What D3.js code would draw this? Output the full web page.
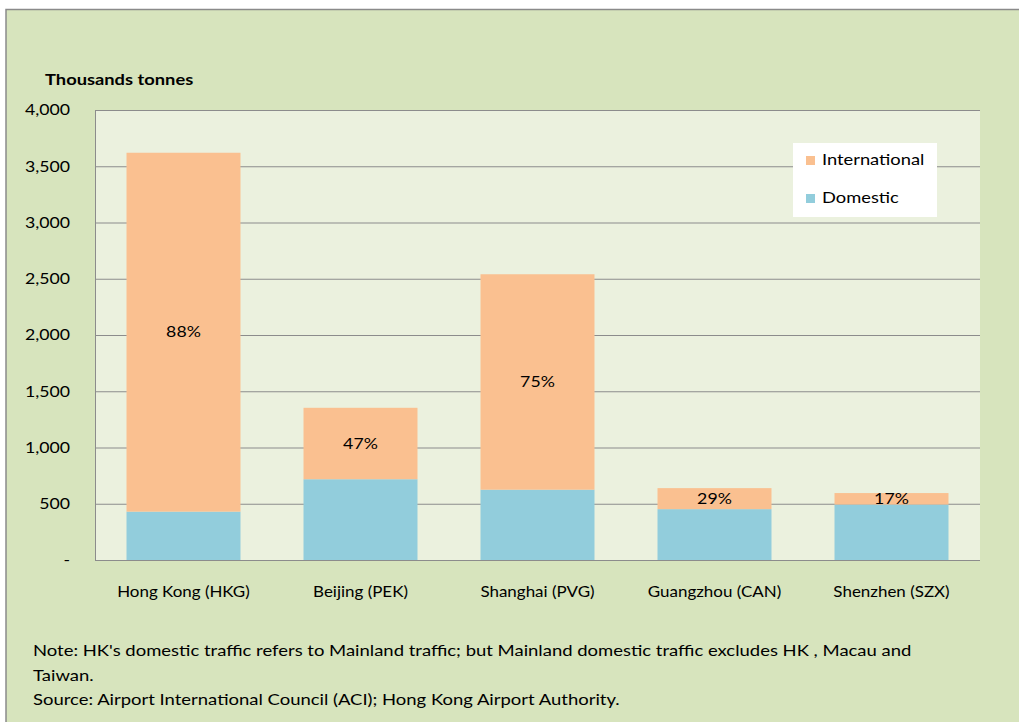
<!DOCTYPE html>
<html>
<head>
<meta charset="utf-8">
<script src="https://cdn.jsdelivr.net/npm/d3@7"></script>
<style>
    body { margin: 0; background: #fff; }
    text { font-family: Lato, "Open Sans", sans-serif; fill: #000; }
</style>
</head>
<body>
<svg id="chart" width="1019" height="722"></svg>
<script>
// airports and cargo tonnage (thousand tonnes)
var airports = ["Hong Kong (HKG)", "Beijing (PEK)", "Shanghai (PVG)", "Guangzhou (CAN)", "Shenzhen (SZX)"];
var domestic = [430, 718, 625, 452, 493];
var international = [3190, 635, 1915, 187, 102];
var shareLabels = ["88%", "47%", "75%", "29%", "17%"];
var yTicks = [0, 500, 1000, 1500, 2000, 2500, 3000, 3500, 4000];
var noteLines = [
    "Note: HK's domestic traffic refers to Mainland traffic; but Mainland domestic traffic excludes HK , Macau  and",
    "Taiwan.",
    "Source: Airport International Council (ACI); Hong Kong Airport Authority."
];

var svg = d3.select("#chart");

// the original font is wider than Lato, stretch text a bit
function widen(sel, factor) {
    sel.each(function () {
        var w = this.getComputedTextLength();
        d3.select(this)
            .attr("textLength", w * factor)
            .attr("lengthAdjust", "spacingAndGlyphs");
    });
}

// chart area background with thin grey frame
svg.append("rect")
    .attr("x", 6).attr("y", 9.5)
    .attr("width", 1019).attr("height", 722)
    .style("fill", "#d7e4bd")
    .style("stroke", "#8a8a8a")
    .style("stroke-width", 1.5);

var margin = {left: 95, top: 110, right: 980, bottom: 560};

var x = d3.scaleBand()
    .domain(airports)
    .range([margin.left, margin.right])
    .paddingInner(0.356)
    .paddingOuter(0.178);

var y = d3.scaleLinear()
    .domain([0, 4000])
    .range([margin.bottom, margin.top]);

// plot area
svg.append("rect")
    .attr("x", margin.left).attr("y", margin.top)
    .attr("width", margin.right - margin.left)
    .attr("height", margin.bottom - margin.top)
    .style("fill", "#ebf1de");

// gridlines
svg.append("g")
    .selectAll("line")
    .data(yTicks.slice(1))
    .enter().append("line")
    .attr("x1", margin.left).attr("x2", margin.right)
    .attr("y1", function (d) { return y(d) + 0.5; })
    .attr("y2", function (d) { return y(d) + 0.5; })
    .style("stroke", "#8c8c8c")
    .style("stroke-width", 1.2);

// axis lines
svg.append("line")
    .attr("x1", margin.left + 0.5).attr("x2", margin.left + 0.5)
    .attr("y1", margin.top).attr("y2", margin.bottom)
    .style("stroke", "#8c8c8c");
svg.append("line")
    .attr("x1", margin.left).attr("x2", margin.right)
    .attr("y1", margin.bottom + 0.5).attr("y2", margin.bottom + 0.5)
    .style("stroke", "#8c8c8c");

// y tick labels
var fmt = d3.format(",");
var tickText = svg.append("g")
    .selectAll("text")
    .data(yTicks)
    .enter().append("text")
    .attr("x", 70)
    .attr("y", function (d) { return y(d); })
    .attr("dy", "0.35em")
    .attr("text-anchor", "end")
    .style("font-size", "15px")
    .text(function (d) { return d === 0 ? "-" : fmt(d); });
widen(tickText, 1.18);

// stacked bars
var rows = airports.map(function (a, i) {
    return {name: a, dom: domestic[i], intl: international[i], label: shareLabels[i]};
});

var bars = svg.append("g")
    .selectAll("g")
    .data(rows)
    .enter().append("g");

bars.append("rect")
    .attr("x", function (d) { return x(d.name); })
    .attr("width", x.bandwidth())
    .attr("y", function (d) { return y(d.dom); })
    .attr("height", function (d) { return y(0) - y(d.dom); })
    .style("fill", "#92cddc");

bars.append("rect")
    .attr("x", function (d) { return x(d.name); })
    .attr("width", x.bandwidth())
    .attr("y", function (d) { return y(d.dom + d.intl); })
    .attr("height", function (d) { return y(d.dom) - y(d.dom + d.intl); })
    .style("fill", "#fac090");

var pct = bars.append("text")
    .attr("x", function (d) { return x(d.name) + x.bandwidth() / 2; })
    .attr("y", function (d) { return (y(d.dom) + y(d.dom + d.intl)) / 2; })
    .attr("dy", "0.35em")
    .attr("text-anchor", "middle")
    .style("font-size", "15px")
    .text(function (d) { return d.label; });
widen(pct, 1.18);

// category labels
var cats = svg.append("g")
    .selectAll("text")
    .data(airports)
    .enter().append("text")
    .attr("x", function (d) { return x(d) + x.bandwidth() / 2; })
    .attr("y", 592)
    .attr("dy", "0.35em")
    .attr("text-anchor", "middle")
    .style("font-size", "15px")
    .text(function (d) { return d; });
widen(cats, 1.13);

// axis title
var title = svg.append("text")
    .attr("x", 45).attr("y", 80)
    .attr("dy", "0.35em")
    .style("font-size", "15px")
    .style("font-weight", "bold")
    .text("Thousands tonnes");
widen(title, 1.22);

// legend
var legend = svg.append("g");
legend.append("rect")
    .attr("x", 793).attr("y", 143)
    .attr("width", 144).attr("height", 74)
    .style("fill", "#fff");
var legendItems = [
    {name: "International", color: "#fac090", cy: 160},
    {name: "Domestic", color: "#92cddc", cy: 198}
];
var li = legend.selectAll("g")
    .data(legendItems)
    .enter().append("g");
li.append("rect")
    .attr("x", 806)
    .attr("y", function (d) { return d.cy - 4; })
    .attr("width", 9).attr("height", 9)
    .style("fill", function (d) { return d.color; });
var legText = li.append("text")
    .attr("x", 822)
    .attr("y", function (d) { return d.cy; })
    .attr("dy", "0.35em")
    .style("font-size", "15px")
    .text(function (d) { return d.name; });
widen(legText, 1.22);

// footnote
var notes = svg.append("g")
    .selectAll("text")
    .data(noteLines)
    .enter().append("text")
    .attr("x", 33)
    .attr("y", function (d, i) { return 651 + i * 24.5; })
    .attr("dy", "0.35em")
    .style("font-size", "15px")
    .text(function (d) { return d; });
widen(notes, 1.23);
</script>
</body>
</html>
